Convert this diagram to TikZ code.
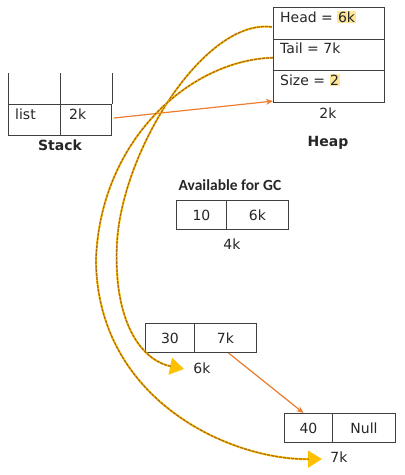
\documentclass[tikz,border=0pt]{standalone}
\usepackage{fontspec}
\setmainfont{DejaVu Sans}
\newfontfamily\calfont{Carlito}
\usetikzlibrary{arrows.meta}
\definecolor{boxline}{HTML}{404040}
\definecolor{txt}{HTML}{262626}
\definecolor{hiyel}{HTML}{FFE699}
\definecolor{ptrorange}{HTML}{ED7D31}
\definecolor{gcyel}{HTML}{FFC000}
\definecolor{gcbrown}{HTML}{A8671E}
\newcommand\hlt[1]{{\fboxsep=0.6pt\colorbox{hiyel}{#1}}}
\tikzset{
  cell/.style={draw=boxline, line width=1pt, inner sep=0pt, anchor=north west},
  celltext/.style={anchor=base west, inner sep=0pt},
  title/.style={font=\fontsize{14}{16}\selectfont\bfseries},
  ptr/.style={draw=ptrorange, line width=1.2pt, -{Stealth[length=7pt,width=6pt]}},
  gcptr/.style={draw=gcyel, line width=2pt,
    -{Triangle[length=14pt,width=17pt]},
    postaction={draw=gcbrown, -, line width=1.2pt, dash pattern=on 3pt off 1pt, shorten >=13pt}},
}
\begin{document}
\begin{tikzpicture}[x=1pt,y=-1pt,
  every node/.style={font=\fontsize{14}{16}\selectfont, text=txt}]
\useasboundingbox (0,0) rectangle (405,475);

% heap
\node[cell, minimum width=111pt, minimum height=31.7pt] (head) at (273,7) {};
\node[cell, minimum width=111pt, minimum height=31.7pt] (tail) at (273,38.7) {};
\node[cell, minimum width=111pt, minimum height=31.7pt] (size) at (273,70.4) {};
\node[celltext] (headtxt) at ([shift={(7,15)}]head.north west) {Head = \hlt{6k}};
\node[celltext] (tailtxt) at ([shift={(7,15)}]tail.north west) {Tail = 7k};
\node[celltext] (sizetxt) at ([shift={(7,15)}]size.north west) {Size = \hlt{2}};
\node (heapaddr) at (328,113) {2k};
\node[title] (heaplbl) at (328,143) {Heap};

% stack
\node[cell, minimum width=52pt, minimum height=31pt] (slist) at (8,104) {};
\node[cell, minimum width=51pt, minimum height=31pt] (sval) at (60,104) {};
\draw[draw=boxline, line width=1pt] (slist.north west) -- ++(0,-31);
\draw[draw=boxline, line width=1pt] (sval.north west) -- ++(0,-31);
\draw[draw=boxline, line width=1pt] (sval.north east) -- ++(0,-31);
\node[celltext] (listtxt) at ([shift={(7,15)}]slist.north west) {list};
\node[celltext] (valtxt) at ([shift={(9,15)}]sval.north west) {2k};
\node[title] (stacklbl) at (60,145) {Stack};

% free block
\node[title, font=\fontsize{15.5}{17}\selectfont\calfont\bfseries] (gclbl) at (230,185) {Available for GC};
\node[cell, minimum width=50pt, minimum height=29pt] (n10) at (176,200) {};
\node[cell, minimum width=62pt, minimum height=29pt] (v10) at (226,200) {};
\node at (n10.center) {10};
\node at (v10.center) {6k};
\node (addr4k) at (232,244) {4k};

% list nodes
\node[cell, minimum width=49pt, minimum height=29pt] (n30) at (145,323) {};
\node[cell, minimum width=62pt, minimum height=29pt] (v30) at (194,323) {};
\node at (n30.center) {30};
\node at (v30.center) {7k};
\node (addr6k) at (202,368) {6k};

\node[cell, minimum width=48pt, minimum height=29pt] (n40) at (284,413) {};
\node[cell, minimum width=63pt, minimum height=29pt] (v40) at (332,413) {};
\node at (n40.center) {40};
\node at (v40.center) {Null};
\node (addr7k) at (339,457) {7k};

% pointers
\draw[ptr] ([shift={(2,-2)}]sval.east) -- ([yshift=2pt]size.south west);
\draw[ptr] ([xshift=3pt]v30.south) -- ([xshift=-5pt]n40.north);
\draw[gcptr] ([shift={(-1,20)}]head.north west) .. controls (205,18) and (122,150) .. (117,243)
  .. controls (113,320) and (140,360) .. ([shift={(-6,1)}]addr6k.west);
\draw[gcptr] ([shift={(0,19)}]tail.north west) .. controls (190,60) and (100,140) .. (96,260)
  .. controls (97,400) and (230,460) .. ([shift={(-5,2)}]addr7k.west);
\end{tikzpicture}
\end{document}
